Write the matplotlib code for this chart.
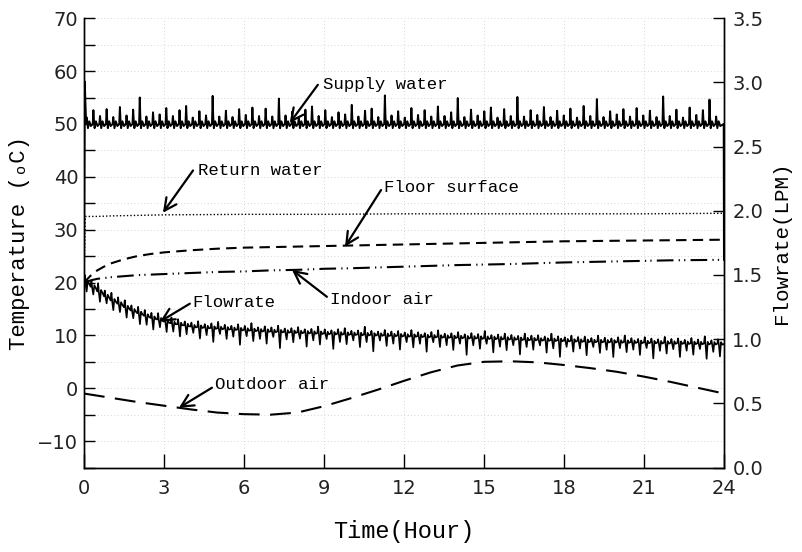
import numpy as np
import matplotlib
matplotlib.use("Agg")
import matplotlib.pyplot as plt
from matplotlib.ticker import MultipleLocator

# ---------------- data ----------------
# supply water: spike peak per pump cycle (degC), baseline ~50
supply_peaks = [51.2,52.6,51.5,52.8,51.3,53.2,51.6,52.7,55.0,51.4,52.2,51.8,53.0,51.5,52.6,53.4,
                51.2,52.4,51.6,55.3,51.4,52.5,51.3,52.8,51.7,53.1,51.5,52.9,51.4,54.8,51.6,52.3,
                51.2,52.7,53.3,51.5,52.6,51.3,52.2,51.8,53.6,51.4,52.5,52.9,51.3,55.4,51.6,52.4,
                51.2,53.0,51.7,52.6,51.4,53.3,51.5,52.2,54.9,51.3,52.7,51.6,52.4,53.1,51.2,52.8,
                51.5,55.1,51.4,52.6,51.7,53.2,51.3,52.5,51.6,52.9,51.2,53.4,51.5,54.7,51.3,52.4,
                51.8,52.8,51.4,53.0,51.6,52.5,51.3,55.2,51.5,52.7,51.2,53.1,51.7,52.6,54.6,51.4]

# flowrate (LPM): baseline per cycle, upward and downward spike sizes
flow_base = [1.441,1.408,1.371,1.334,1.301,1.276,1.248,1.223,1.202,1.182,1.165,1.153,1.136,1.124,1.116,1.108,
             1.099,1.095,1.092,1.088,1.085,1.082,1.079,1.076,1.073,1.070,1.067,1.065,1.062,1.060,1.058,1.056,
             1.054,1.052,1.050,1.048,1.046,1.044,1.043,1.041,1.040,1.038,1.037,1.035,1.034,1.032,1.030,1.029,
             1.027,1.026,1.024,1.022,1.021,1.019,1.018,1.016,1.015,1.013,1.012,1.010,1.009,1.007,1.006,1.004,
             1.003,1.001,0.999,0.998,0.996,0.995,0.993,0.992,0.990,0.988,0.987,0.985,0.984,0.983,0.982,0.981,
             0.980,0.979,0.978,0.977,0.976,0.975,0.974,0.973,0.972,0.971,0.970,0.969,0.968,0.967,0.966,0.965]
flow_up = [0.060,0.050,0.065,0.045,0.060,0.050,0.055,0.040,0.050,0.045,0.040,0.050,0.035,0.045,0.040,0.030,
           0.030,0.045,0.025,0.035,0.050,0.030,0.025,0.040,0.030,0.055,0.025,0.035,0.030,0.045,0.025,0.030,
           0.040,0.025,0.030,0.050,0.030,0.025,0.035,0.045,0.025,0.030,0.060,0.030,0.025,0.040,0.030,0.035,
           0.025,0.045,0.030,0.025,0.035,0.050,0.025,0.030,0.040,0.025,0.035,0.030,0.055,0.025,0.030,0.040,
           0.030,0.025,0.045,0.030,0.035,0.025,0.050,0.030,0.025,0.040,0.030,0.035,0.025,0.045,0.030,0.025,
           0.035,0.050,0.030,0.025,0.040,0.030,0.025,0.045,0.030,0.035,0.025,0.040,0.030,0.055,0.025,0.035]
flow_down = [0.070,0.060,0.080,0.055,0.075,0.065,0.080,0.060,0.085,0.070,0.090,0.060,0.080,0.065,0.095,0.070,
             0.050,0.090,0.060,0.110,0.045,0.080,0.060,0.120,0.050,0.085,0.065,0.100,0.045,0.130,0.060,0.080,
             0.050,0.110,0.060,0.090,0.045,0.120,0.065,0.080,0.050,0.100,0.060,0.130,0.045,0.085,0.065,0.110,
             0.050,0.090,0.060,0.120,0.045,0.080,0.065,0.100,0.050,0.135,0.060,0.085,0.045,0.110,0.065,0.090,
             0.050,0.120,0.060,0.080,0.045,0.100,0.065,0.130,0.050,0.085,0.060,0.110,0.045,0.090,0.065,0.120,
             0.050,0.080,0.060,0.100,0.045,0.125,0.065,0.085,0.050,0.110,0.060,0.090,0.045,0.120,0.065,0.100]

# smooth temperatures (degC)
return_t = [0.0, 0.05, 0.5, 1, 2, 3, 6, 9, 12, 15, 18, 21, 24]
return_v = [20.0, 32.5, 32.5, 32.6, 32.7, 32.8, 32.9, 32.9, 33.0, 33.0, 33.0, 33.0, 33.1]

floor_t = [0, 0.25, 0.5, 0.75, 1, 1.5, 2, 2.5, 3, 4, 5, 6, 7, 8, 9, 10, 12, 14, 16, 18, 20, 22, 24]
floor_v = [20.0, 21.3, 22.3, 23.0, 23.6, 24.4, 25.0, 25.4, 25.7, 26.1, 26.4, 26.6, 26.7, 26.8, 26.9,
           27.0, 27.2, 27.4, 27.6, 27.8, 27.9, 28.0, 28.1]

indoor_t = [0, 0.25, 0.5, 1, 1.5, 2, 3, 4, 5, 6, 7, 8, 9, 10, 12, 14, 16, 18, 20, 22, 24]
indoor_v = [20.0, 20.4, 20.7, 21.0, 21.2, 21.4, 21.6, 21.8, 22.0, 22.1, 22.3, 22.4, 22.6, 22.7,
            23.0, 23.3, 23.5, 23.8, 24.0, 24.2, 24.3]

outdoor_t = list(range(25))
outdoor_v = [-1.0, -1.8, -2.6, -3.3, -4.0, -4.6, -4.9, -5.0, -4.6, -3.4, -1.9, -0.3, 1.4, 3.0,
             4.3, 5.0, 5.1, 4.9, 4.4, 3.8, 3.1, 2.2, 1.2, 0.1, -1.0]

x_ticks = [0, 3, 6, 9, 12, 15, 18, 21, 24]

# ---------------- build jagged series from the cycle lists ----------------
n = len(supply_peaks)
dt = 23.85 / n
ts, ys = [0.0, 0.03], [20.0, 58.0]
for i, pk in enumerate(supply_peaks):
    t0 = 0.08 + i * dt
    ts += [t0, t0 + 0.025, t0 + 0.045, t0 + 0.07, t0 + 0.12, t0 + 0.18]
    ys += [50.0, pk, 50.0 + (pk - 50.0) * 0.3, 49.2, 50.5, 49.6]
ts += [23.99, 24.0]
ys += [50.0, 24.3]

tf, yf = [], []
for i, (b, u, d) in enumerate(zip(flow_base, flow_up, flow_down)):
    t0 = i * (24.0 / n)
    tf += [t0, t0 + 0.03, t0 + 0.06, t0 + 0.10, t0 + 0.14, t0 + 0.19]
    yf += [b, b + u, b - 0.01, b - d, b + 0.012, b - 0.008]
tf += [24.0]
yf += [0.963]

# ---------------- figure ----------------
mono = ['Liberation Mono', 'DejaVu Sans Mono']
sans = ['DejaVu Sans']

fig = plt.figure(figsize=(8.02, 5.52), dpi=100)
ax = fig.add_axes([0.1047, 0.153, 0.798, 0.814])
ax2 = ax.twinx()

ax.set_xlim(0, 24)
ax.set_ylim(-15, 70)
ax2.set_ylim(0, 3.5)

# grid
for g in np.arange(-15, 71, 5):
    ax.axhline(g, color='#c8c8c8', ls=(0, (1, 3)), lw=0.6, zorder=0)
for g in x_ticks[1:-1]:
    ax.axvline(g, color='#c8c8c8', ls=(0, (1, 3)), lw=0.6, zorder=0)

ax.plot(ts, ys, color='black', lw=1.4)
ax.plot(return_t, return_v, color='black', lw=1.0, ls=(0, (1, 1.5)))
ax.plot(floor_t, floor_v, color='black', lw=1.5, dashes=(5, 3))
ax.plot(indoor_t, indoor_v, color='black', lw=1.5, dashes=(8, 2.5, 0.6, 2, 0.6, 2.5))
ax.plot(outdoor_t, outdoor_v, color='black', lw=1.5, dashes=(10, 5))
ax2.plot(tf, yf, color='black', lw=1.2)

# annotations
ap = dict(arrowstyle='->', lw=1.6, color='black', shrinkA=0, shrinkB=0, mutation_scale=22)
notes = [
    ("Supply water", (7.72, 50.2), (8.77, 57.4), (8.96, 57.4)),
    ("Return water", (2.96, 33.2), (4.09, 41.2), (4.27, 41.2)),
    ("Floor surface", (9.79, 26.8), (11.14, 37.5), (11.25, 37.9)),
    ("Indoor air", (7.80, 22.4), (9.11, 17.3), (9.22, 16.7)),
    ("Flowrate", (2.85, 12.6), (3.97, 16.0), (4.05, 16.2)),
    ("Outdoor air", (3.56, -3.7), (4.80, 0.1), (4.90, 0.7)),
]
for label, tip, tail, txt in notes:
    ax.annotate('', xy=tip, xytext=tail, arrowprops=ap)
    ax.text(txt[0], txt[1], label, family=mono, fontsize=12.5, ha='left', va='center')

# ticks
ax.set_xticks(x_ticks)
ax.set_yticks(np.arange(-10, 71, 10))
ax.yaxis.set_minor_locator(MultipleLocator(5))
ax.tick_params(axis='x', direction='in', length=10, width=1, pad=8, top=False)
ax.tick_params(axis='y', which='both', direction='in', length=8, width=1, pad=4)
ax2.set_yticks(np.arange(0, 3.51, 0.5))
ax2.set_yticklabels([f"{v:.1f}" for v in np.arange(0, 3.51, 0.5)])
ax2.tick_params(axis='y', direction='in', length=8, width=1, pad=6)
for a in (ax, ax2):
    for lab in a.get_xticklabels() + a.get_yticklabels():
        lab.set_family(sans)
        lab.set_fontsize(14)
        lab.set_color('#222222')
    a.spines['top'].set_visible(False)
    for s in ('left', 'right', 'bottom'):
        a.spines[s].set_linewidth(1.0)

ax.set_xlabel('Time(Hour)', family=mono, fontsize=17, labelpad=16)
ax.set_ylabel('Temperature (\u2092C)', family=mono, fontsize=16, labelpad=5)
ax2.set_ylabel('Flowrate(LPM)', family=mono, fontsize=15, labelpad=6, rotation=90)

fig.savefig('out.png', dpi=100)
